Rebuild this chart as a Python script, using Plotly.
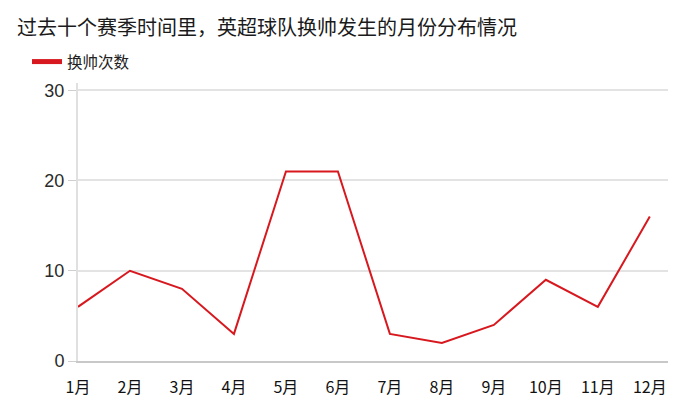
import plotly.graph_objects as go

months = ["1月", "2月", "3月", "4月", "5月", "6月", "7月", "8月", "9月", "10月", "11月", "12月"]
changes = [6, 10, 8, 3, 21, 21, 3, 2, 4, 9, 6, 16]
series_name = "换帅次数"
title = "过去十个赛季时间里，英超球队换帅发生的月份分布情况"

W, H = 692, 397  # page body has an 8px margin
RED = "#d7191f"
fig = go.Figure()
fig.add_trace(go.Scatter(x=list(range(len(months))), y=changes, mode="lines",
                         line=dict(color=RED, width=2), showlegend=False, hoverinfo="y"))
fig.add_trace(go.Scatter(x=[None], y=[None], mode="lines", name=series_name,
                         line=dict(color=RED, width=5), showlegend=True))

fig.update_layout(
    width=W, height=H,
    margin=dict(l=70, r=32, t=75, b=44, autoexpand=False),
    plot_bgcolor="white", paper_bgcolor="white",
    font=dict(family="Noto Sans CJK SC, Liberation Sans, sans-serif", color="#222"),
    title=dict(text=title, x=9/W, xanchor="left", y=1-20/H, yanchor="middle",
               font=dict(size=20, color="#1a1a1a"), automargin=False),
    legend=dict(x=19/W, xref="container", xanchor="left", y=1-54/H, yref="container",
                yanchor="middle",
                orientation="h", font=dict(size=15.5, color="#222"),
                itemwidth=30, bgcolor="rgba(0,0,0,0)"),
    xaxis=dict(range=[0, 11.35], tickmode="array", tickvals=list(range(len(months))),
               ticktext=months, showgrid=False, zeroline=False, automargin=False,
               showline=True, linecolor="#c8c8c8", linewidth=2,
               ticks="", tickfont=dict(size=16, color="#111"), ticklabelstandoff=11),
    yaxis=dict(range=[0, 30.8], tickvals=[0, 10, 20, 30], showgrid=True, automargin=False,
               gridcolor="#e3e3e3", gridwidth=2, zeroline=False,
               showline=True, linecolor="#e0e0e0", linewidth=2,
               ticks="outside", ticklen=8, tickcolor="#cfcfcf",
               tickfont=dict(size=18, color="#2a2a2a", family="Liberation Sans, Arial, sans-serif")),
)

fig.write_html("out.html")
